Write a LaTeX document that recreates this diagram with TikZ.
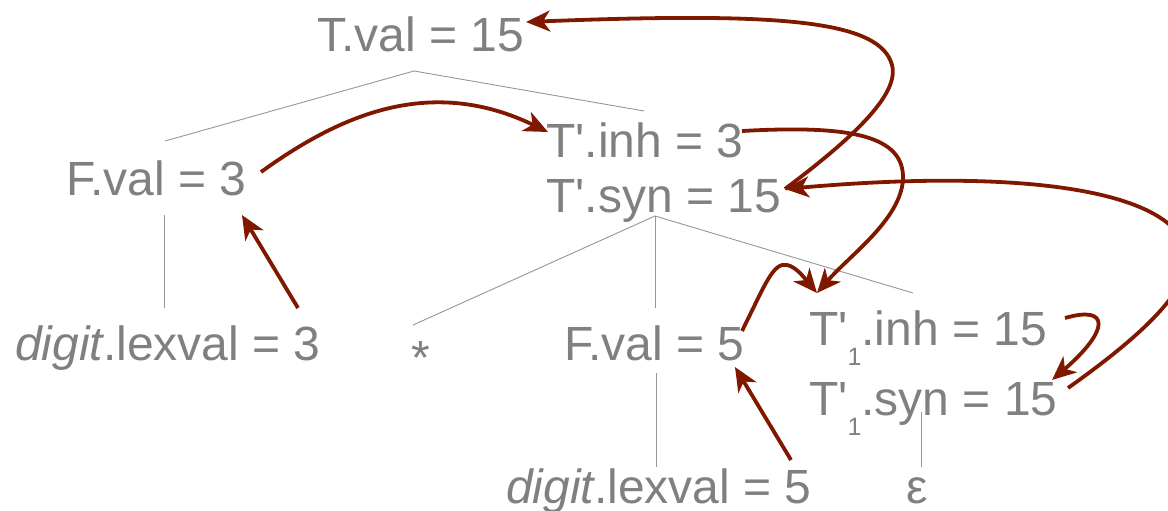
\documentclass[tikz,border=0pt]{standalone}
\usepackage{fontspec}
\setmainfont{Liberation Sans}
\usetikzlibrary{arrows.meta}
\definecolor{attrgray}{RGB}{128,128,128}
\definecolor{treegray}{RGB}{150,150,150}
\definecolor{deparrow}{RGB}{128,24,0}
\newcommand{\subone}{\raisebox{-20pt}{\fontsize{25}{25}\selectfont 1}}
\newcommand{\tp}{T\textquotesingle}
\tikzset{
    attr/.style={inner sep=0pt, anchor=base west, text=attrgray, font=\fontsize{48}{52}\selectfont},
    tree/.style={draw=treegray, line width=0.9pt},
    dep/.style={draw=deparrow, line width=3.8pt, -{Stealth[length=24pt, width=21pt, inset=7pt]}},
}

\begin{document}
\begin{tikzpicture}[x=1pt, y=-1pt]
    \useasboundingbox (0,0) rectangle (1168,511);

    % attribute values
    \node[attr] (tval) at (317,52) {T.val = 15};
    \node[attr] (fval) at (66,195) {F.val = 3};
    \node[attr] (tinh) at (546,157) {\tp.inh = 3};
    \node[attr] (tsyn) at (546,212) {\tp.syn = 15};
    \node[attr] (dig) at (15,360) {\textit{digit}.lexval = 3};
    \node[attr, anchor=base] (star) at (421,374) {*};
    \node[attr] (fvalb) at (564,360) {F.val = 5};
    \node[attr] (tinhb) at (809,345) {\tp\subone.inh = 15};
    \node[attr] (tsynb) at (809,415) {\tp\subone.syn = 15};
    \node[attr] (digb) at (506,503) {\textit{digit}.lexval = 5};
    \node[attr, anchor=base] (eps) at (917,503) {ε};

    % parse tree
    \coordinate (tval-s) at (414,71);
    \coordinate (fval-n) at (165,141);
    \coordinate (tinh-n) at (644,111);
    \coordinate (fval-s) at (164,215);
    \coordinate (dig-n) at (164,308);
    \coordinate (tsyn-s) at (655,216);
    \coordinate (star-n) at (413,325);
    \coordinate (fvalb-n) at (655,308);
    \coordinate (tinhb-n) at (913,293);
    \coordinate (fvalb-s) at (656,373);
    \coordinate (digb-n) at (656,467);
    \coordinate (tsynb-s) at (921,412);
    \coordinate (eps-n) at (921,467);
    \draw[tree] (fval-n) -- (tval-s) -- (tinh-n);
    \draw[tree] (fval-s) -- (dig-n);
    \draw[tree] (star-n) -- (tsyn-s) -- (tinhb-n);
    \draw[tree] (tsyn-s) -- (fvalb-n);
    \draw[tree] (fvalb-s) -- (digb-n);
    \draw[tree] (tsynb-s) -- (eps-n);

    % dependency arrows
    \coordinate (tval-r) at (526,22);
    \coordinate (fval-r) at (261,172);
    \coordinate (fval-b) at (242,215);
    \coordinate (tinh-l) at (548,132);
    \coordinate (tinh-r) at (742,131);
    \coordinate (tsyn-r) at (785,189);
    \coordinate (dig-a) at (298,308);
    \coordinate (fvalb-r) at (742,331);
    \coordinate (fvalb-b) at (735,367);
    \coordinate (digb-a) at (791,460);
    \coordinate (tinhb-t) at (817,293);
    \coordinate (tinhb-r) at (1065,318);
    \coordinate (tsynb-t) at (1052,380);
    \coordinate (tsynb-r) at (1068,388);
    \draw[dep] (fval-r) .. controls (340,115) and (430,75) .. (tinh-l);
    \draw[dep] (dig-a) -- (fval-b);
    \draw[dep] (digb-a) -- (fvalb-b);
    \draw[dep] (fvalb-r) .. controls (765,285) and (773,262) .. (787,265) .. controls (797,267) and (806,280) .. (tinhb-t);
    \draw[dep] (tinh-r) .. controls (850,125) and (905,135) .. (903,180) .. controls (900,220) and (850,255) .. (tinhb-t);
    \draw[dep] (tsyn-r) .. controls (850,140) and (900,95) .. (892,65) .. controls (880,20) and (780,12) .. (tval-r);
    \draw[dep] (tsynb-r) .. controls (1150,330) and (1200,280) .. (1185,245) .. controls (1160,185) and (1000,170) .. (tsyn-r);
    \draw[dep] (tinhb-r) .. controls (1110,305) and (1110,330) .. (tsynb-t);
\end{tikzpicture}
\end{document}
